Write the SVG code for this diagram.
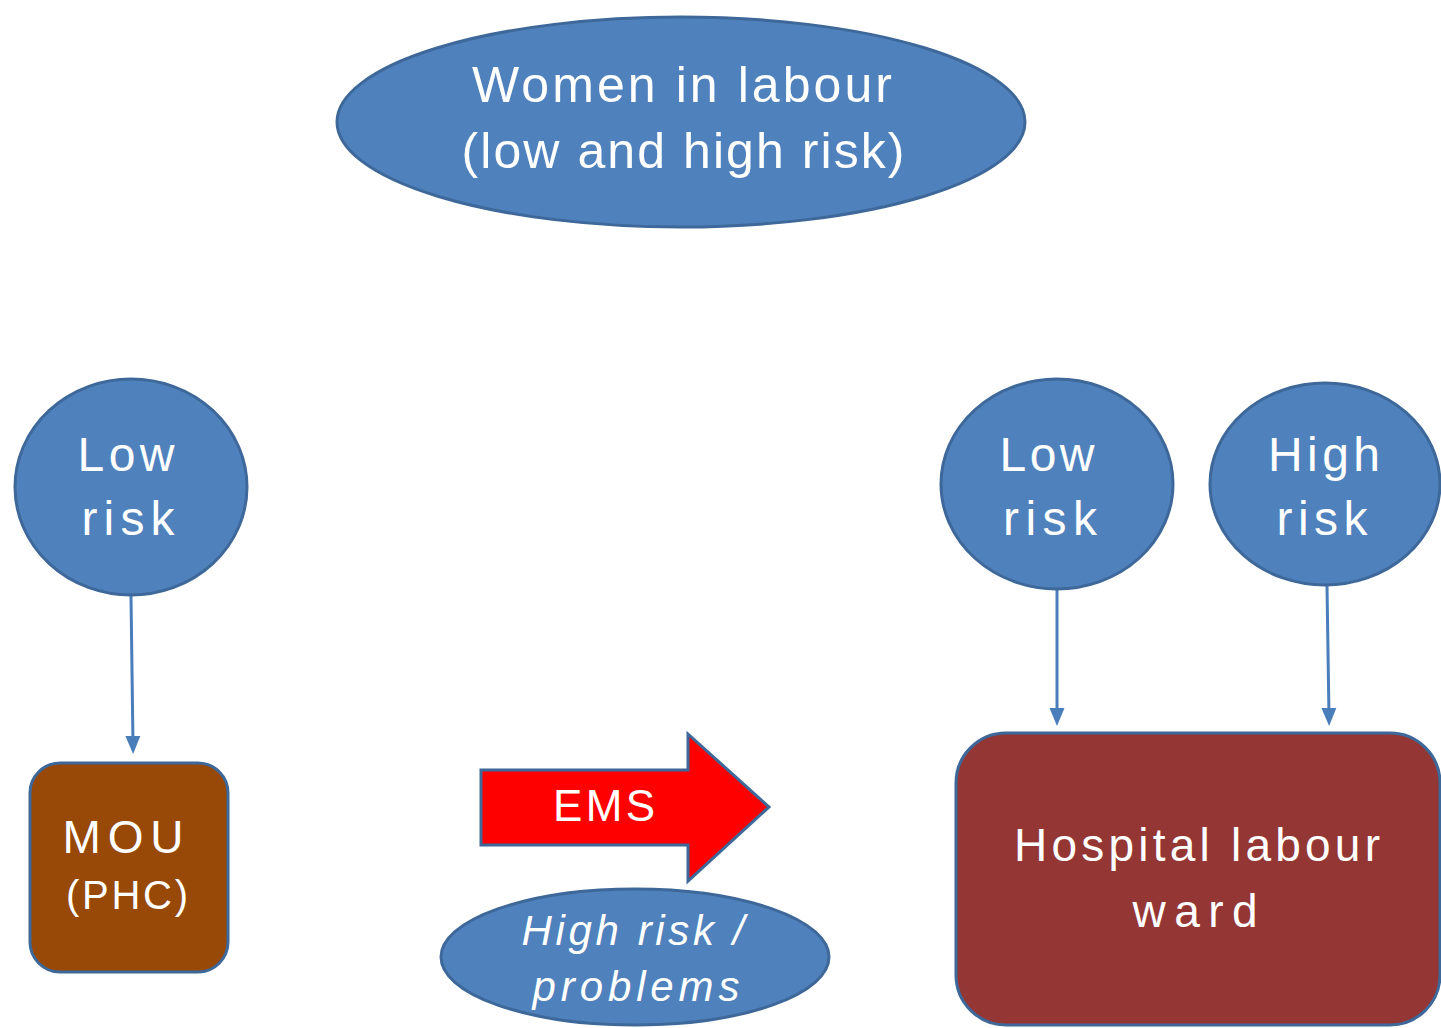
<svg xmlns="http://www.w3.org/2000/svg" width="1441" height="1028" viewBox="0 0 1441 1028">
<style>
.blue{fill:#4f81bd;stroke:#3d6899;stroke-width:3}
.t{font-family:"Liberation Sans",Arial,sans-serif;fill:#fff;text-anchor:middle}
.conn{stroke:#4a7ebb;stroke-width:3;fill:none;marker-end:url(#ah)}
</style>
<defs>
<marker id="ah" markerWidth="6" markerHeight="6" refX="3" refY="3" orient="auto" markerUnits="strokeWidth">
<path d="M0,0.5 L6,3 L0,5.5 Z" fill="#4a7ebb"/>
</marker>
</defs>
<rect width="1441" height="1028" fill="#fff"/>
<g id="connectors">
<line class="conn" x1="131" y1="596" x2="133" y2="745"/>
<line class="conn" x1="1057" y1="590" x2="1057" y2="717"/>
<line class="conn" x1="1327" y1="586" x2="1329" y2="717"/>
</g>
<g id="women">
<ellipse class="blue" cx="681" cy="122" rx="344" ry="105"/>
<text class="t" x="682" y="102" font-size="50" textLength="420" lengthAdjust="spacing">Women in labour</text>
<text class="t" x="683" y="168" font-size="50" textLength="443" lengthAdjust="spacing">(low and high risk)</text>
</g>
<g id="lowrisk-left">
<ellipse class="blue" cx="131" cy="487" rx="116" ry="108"/>
<text class="t" x="126" y="471" font-size="48" textLength="97" lengthAdjust="spacing">Low</text>
<text class="t" x="128" y="535" font-size="48" textLength="93" lengthAdjust="spacing">risk</text>
</g>
<g id="mou">
<rect x="30" y="763" width="198" height="209" rx="30" fill="#984807" stroke="#3d6899" stroke-width="3"/>
<text class="t" x="123" y="853" font-size="46" textLength="121" lengthAdjust="spacing">MOU</text>
<text class="t" x="127" y="909" font-size="40" textLength="122" lengthAdjust="spacing">(PHC)</text>
</g>
<g id="lowrisk-right">
<ellipse class="blue" cx="1057" cy="484" rx="116" ry="105"/>
<text class="t" x="1047" y="471" font-size="48" textLength="95" lengthAdjust="spacing">Low</text>
<text class="t" x="1050" y="535" font-size="48" textLength="94" lengthAdjust="spacing">risk</text>
</g>
<g id="highrisk-right">
<ellipse class="blue" cx="1325" cy="484" rx="115" ry="101"/>
<text class="t" x="1324" y="471" font-size="48" textLength="112" lengthAdjust="spacing">High</text>
<text class="t" x="1322" y="535" font-size="48" textLength="91" lengthAdjust="spacing">risk</text>
</g>
<g id="hospital">
<rect x="956" y="733" width="484" height="292" rx="50" fill="#943634" stroke="#3d6899" stroke-width="3"/>
<text class="t" x="1197" y="861" font-size="46" textLength="366" lengthAdjust="spacing">Hospital labour</text>
<text class="t" x="1195" y="927" font-size="46" textLength="125" lengthAdjust="spacing">ward</text>
</g>
<g id="ems">
<polygon points="481,770 688,770 688,734 769,807 688,881 688,845 481,845" fill="#ff0000" stroke="#3d6899" stroke-width="3"/>
<text class="t" x="604" y="821" font-size="44" textLength="102" lengthAdjust="spacing">EMS</text>
</g>
<g id="highrisk-problems">
<ellipse class="blue" cx="635" cy="957" rx="194" ry="68"/>
<text class="t" x="633" y="945" font-size="42" font-style="italic" textLength="223" lengthAdjust="spacing">High risk /</text>
<text class="t" x="636" y="1001" font-size="42" font-style="italic" textLength="207" lengthAdjust="spacing">problems</text>
</g>
</svg>
